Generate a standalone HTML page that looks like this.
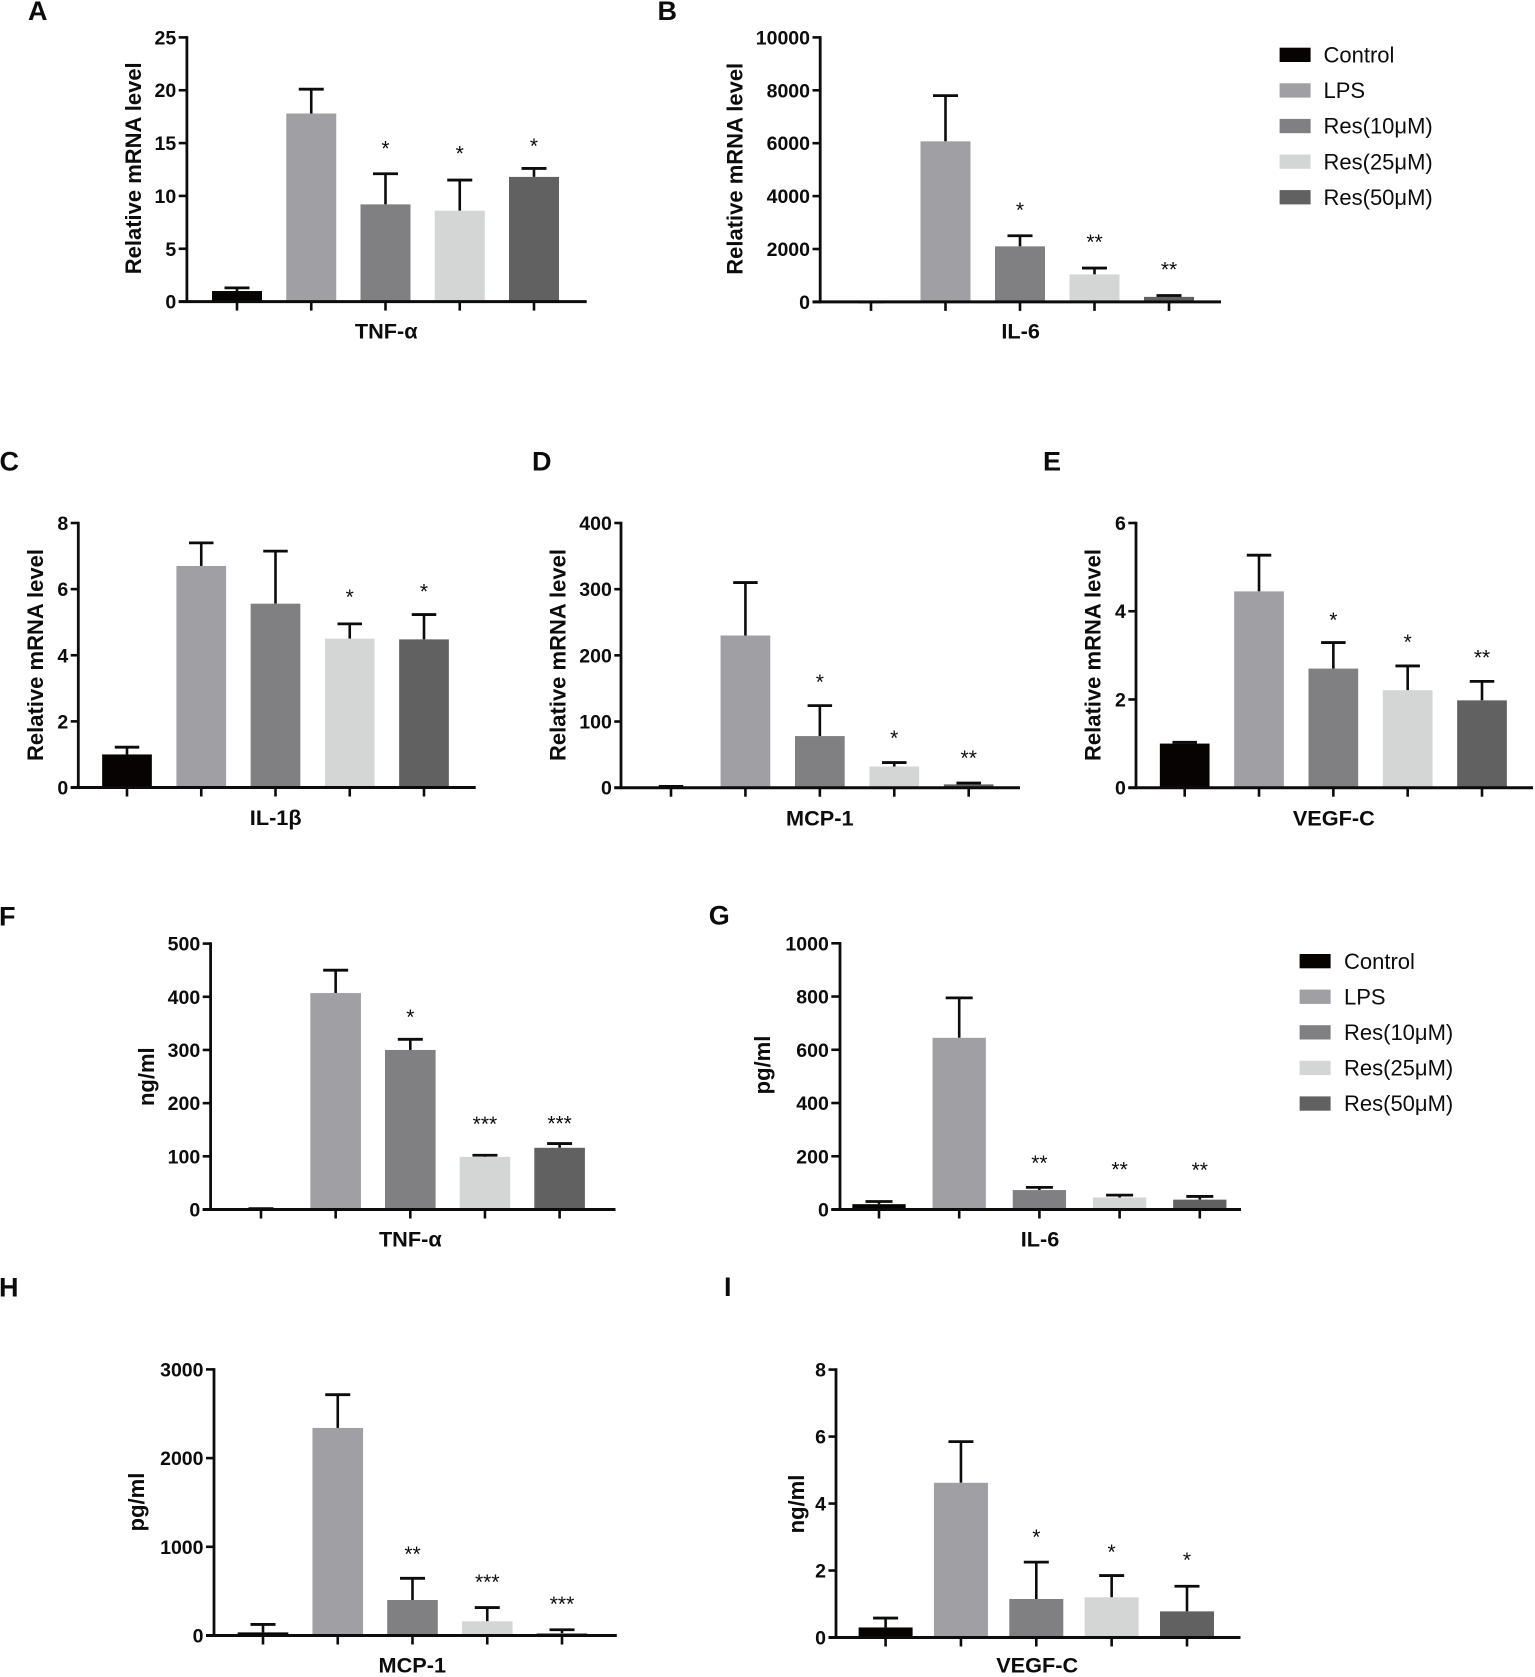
<!DOCTYPE html>
<html lang="en">
<head>
<meta charset="utf-8">
<title>Relative mRNA and cytokine levels</title>
<style>
html,body{margin:0;padding:0;background:#fff;}
body{width:1535px;height:1677px;overflow:hidden;}
svg{display:block;filter:blur(0.35px);}
text{font-family:"Liberation Sans","DejaVu Sans",sans-serif;fill:#0c0c0c;}
</style>
</head>
<body>
<svg id="figure" xmlns="http://www.w3.org/2000/svg" width="1535" height="1677" viewBox="0 0 1535 1677"></svg>
<script>
const categories = ['Control', 'LPS', 'Res(10μM)', 'Res(25μM)', 'Res(50μM)'];
const barColors = ['#070303', '#a0a0a4', '#808082', '#d4d5d5', '#616162'];

const aTicks = ['0', '5', '10', '15', '20', '25'];
const aMeans = [1.0, 17.8, 9.2, 8.6, 11.8];
const aErrTops = [1.3, 20.1, 12.1, 11.5, 12.6];
const aStars = ['', '', '*', '*', '*'];
const aStarLevels = [0, 0, 14.85, 14.38, 15.07];

const bTicks = ['0', '2000', '4000', '6000', '8000', '10000'];
const bMeans = [0, 6070, 2100, 1040, 190];
const bErrTops = [0, 7800, 2500, 1280, 240];
const bStars = ['', '', '*', '**', '**'];
const bStarLevels = [0, 0, 3611, 2404, 1358];

const cTicks = ['0', '2', '4', '6', '8'];
const cMeans = [1.0, 6.7, 5.56, 4.5, 4.48];
const cErrTops = [1.22, 7.4, 7.15, 4.95, 5.23];
const cStars = ['', '', '', '*', '*'];
const cStarLevels = [0, 0, 0, 5.875, 6.04];

const dTicks = ['0', '100', '200', '300', '400'];
const dMeans = [0.5, 230, 78, 32, 5];
const dErrTops = [2, 310, 124, 38, 7];
const dStars = ['', '', '*', '*', '**'];
const dStarLevels = [0, 0, 165, 80.6, 50.4];

const eTicks = ['0', '2', '4', '6'];
const eMeans = [1.0, 4.45, 2.7, 2.21, 1.98];
const eErrTops = [1.03, 5.27, 3.29, 2.76, 2.41];
const eStars = ['', '', '*', '*', '**'];
const eStarLevels = [0, 0, 3.89, 3.39, 3.03];

const fTicks = ['0', '100', '200', '300', '400', '500'];
const fMeans = [0.5, 407, 300, 99, 116];
const fErrTops = [1.5, 450, 320, 102, 124];
const fStars = ['', '', '*', '***', '***'];
const fStarLevels = [0, 0, 369, 168, 169];

const gTicks = ['0', '200', '400', '600', '800', '1000'];
const gMeans = [20, 645, 73, 45, 37];
const gErrTops = [30, 795, 83, 54, 49];
const gStars = ['', '', '**', '**', '**'];
const gStarLevels = [0, 0, 189.5, 165, 162];

const hTicks = ['0', '1000', '2000', '3000'];
const hMeans = [35, 2340, 400, 160, 25];
const hErrTops = [125, 2715, 645, 315, 65];
const hStars = ['', '', '**', '***', '***'];
const hStarLevels = [0, 0, 961, 645, 398];

const iTicks = ['0', '2', '4', '6', '8'];
const iMeans = [0.3, 4.62, 1.15, 1.2, 0.78];
const iErrTops = [0.58, 5.85, 2.25, 1.85, 1.53];
const iStars = ['', '', '*', '*', '*'];
const iStarLevels = [0, 0, 3.11, 2.67, 2.43];

const REL = 'Relative mRNA level';
const panels = [
  {id:'a',letter:'A',lx:28,ly:20,gene:'TNF-α',ticks:aTicks,means:aMeans,errs:aErrTops,stars:aStars,levels:aStarLevels,
   ax:186.9,left:178.7,right:586.7,top:37.4,base:301.6,first:237,last:534,bw:50,cap:25,yl:REL,ylx:140.8,yly:168.3,xlx:386.2,xly:338.3},
  {id:'b',letter:'B',lx:657.5,ly:20,gene:'IL-6',ticks:bTicks,means:bMeans,errs:bErrTops,stars:bStars,levels:bStarLevels,
   ax:820.2,left:812.5,right:1221,top:37.4,base:301.9,first:871,last:1169,bw:50,cap:25,yl:REL,ylx:742.5,yly:168.8,xlx:1020.7,xly:338.3},
  {id:'c',letter:'C',lx:-0.5,ly:470.7,gene:'IL-1β',ticks:cTicks,means:cMeans,errs:cErrTops,stars:cStars,levels:cStarLevels,
   ax:78.3,left:70.7,right:475.7,top:523,base:787.5,first:127,last:424,bw:49.7,cap:24.5,yl:REL,ylx:43,yly:655,xlx:275.7,xly:825},
  {id:'d',letter:'D',lx:532,ly:470.7,gene:'MCP-1',ticks:dTicks,means:dMeans,errs:dErrTops,stars:dStars,levels:dStarLevels,
   ax:621,left:614.3,right:1020,top:523,base:787.7,first:671,last:968.7,bw:49.7,cap:24.5,yl:REL,ylx:565.7,yly:655,xlx:819.8,xly:825.7},
  {id:'e',letter:'E',lx:1043,ly:470.7,gene:'VEGF-C',ticks:eTicks,means:eMeans,errs:eErrTops,stars:eStars,levels:eStarLevels,
   ax:1136,left:1128.3,right:1533,top:523,base:787.7,first:1184.7,last:1482,bw:49.7,cap:24.5,yl:REL,ylx:1100.7,yly:655,xlx:1333.8,xly:825.7},
  {id:'f',letter:'F',lx:-1,ly:925.7,gene:'TNF-α',ticks:fTicks,means:fMeans,errs:fErrTops,stars:fStars,levels:fStarLevels,
   ax:210.6,left:202.7,right:615.5,top:943.6,base:1209.5,first:261,last:559.6,bw:50.6,cap:25,yl:'ng/ml',ylx:154,yly:1076.7,xlx:410.3,xly:1246.7},
  {id:'g',letter:'G',lx:708.8,ly:924.5,gene:'IL-6',ticks:gTicks,means:gMeans,errs:gErrTops,stars:gStars,levels:gStarLevels,
   ax:840,left:831.3,right:1241,top:943.3,base:1209.5,first:879,last:1199.8,bw:53.3,cap:27,yl:'pg/ml',ylx:770,yly:1065,xlx:1040,xly:1246.7},
  {id:'h',letter:'H',lx:-1,ly:1296.7,gene:'MCP-1',ticks:hTicks,means:hMeans,errs:hErrTops,stars:hStars,levels:hStarLevels,
   ax:214,left:206,right:616.8,top:1369.4,base:1635.5,first:263,last:562,bw:50.6,cap:25,yl:'pg/ml',ylx:144,yly:1502,xlx:412.3,xly:1672.7},
  {id:'i',letter:'I',lx:724,ly:1296,gene:'VEGF-C',ticks:iTicks,means:iMeans,errs:iErrTops,stars:iStars,levels:iStarLevels,
   ax:836,left:828.5,right:1240.5,top:1369.6,base:1637.5,first:885.6,last:1187,bw:54,cap:25,yl:'ng/ml',ylx:804,yly:1504,xlx:1037.2,xly:1672.3}
];
const legends = [
  {id:'top',swatchX:1279.6,textX:1323.5,firstY:47.7,rowStep:35.6},
  {id:'bottom',swatchX:1299.6,textX:1344,firstY:954,rowStep:35.6}
];

const NS = 'http://www.w3.org/2000/svg';
const figure = document.getElementById('figure');
function svgEl(tag, attrs, parent, content) {
  const el = document.createElementNS(NS, tag);
  for (const k in attrs) el.setAttribute(k, attrs[k]);
  if (content !== undefined) el.textContent = content;
  parent.appendChild(el);
  return el;
}
const INK = '#0c0c0c';

panels.forEach(function (p) {
  const yOf = function (v) { return p.base - (v / Number(p.ticks[p.ticks.length - 1])) * (p.base - p.top); };
  const xOf = function (i) { return p.first + i * (p.last - p.first) / (categories.length - 1); };

  const g = svgEl('g', {}, figure);
  
  

  const letter = svgEl('text', {x:p.lx, y:p.ly, 'font-size':27, 'font-weight':'bold'}, g, p.letter);
  
  

  categories.forEach(function (cat, i) {
    const cx = xOf(i);
    const stem = svgEl('line', {x1:cx, x2:cx, y1:yOf(p.means[i]), y2:yOf(p.errs[i]), stroke:INK, 'stroke-width':2.6}, g);
    
    

    const cap = svgEl('line', {x1:cx - p.cap / 2, x2:cx + p.cap / 2, y1:yOf(p.errs[i]), y2:yOf(p.errs[i]), stroke:INK, 'stroke-width':2.8}, g);
    
    

    const bar = svgEl('rect', {x:cx - p.bw / 2, y:yOf(p.means[i]), width:p.bw, height:p.base - yOf(p.means[i]), fill:barColors[i]}, g);
    
    

    const xTick = svgEl('line', {x1:cx, x2:cx, y1:p.base, y2:p.base + 9, stroke:INK, 'stroke-width':2.6}, g);
    
    

    if (p.stars[i]) {
      const star = svgEl('text', {x:cx, y:yOf(p.levels[i]) + 10.7, 'font-size':21, 'text-anchor':'middle'}, g, p.stars[i]);
      
      
    }
  });

  const yAxis = svgEl('line', {x1:p.ax, x2:p.ax, y1:p.top - 1.3, y2:p.base + 1.4, stroke:INK, 'stroke-width':2.8}, g);
  
  

  const xAxis = svgEl('line', {x1:p.left, x2:p.right, y1:p.base, y2:p.base, stroke:INK, 'stroke-width':3}, g);
  
  

  p.ticks.forEach(function (label) {
    const ty = yOf(Number(label));
    const tick = svgEl('line', {x1:p.left, x2:p.ax, y1:ty, y2:ty, stroke:INK, 'stroke-width':2.6}, g);
    
    

    const tl = svgEl('text', {x:p.left - 2.5, y:ty + 7, 'font-size':19.5, 'font-weight':'bold', 'text-anchor':'end'}, g, label);
    
    
  });

  const yTitle = svgEl('text', {x:0, y:0, 'font-size':22, 'font-weight':'bold', 'text-anchor':'middle', transform:`translate(${p.ylx} ${p.yly}) rotate(-90)`}, g, p.yl);
  
  

  const xTitle = svgEl('text', {x:p.xlx, y:p.xly, 'font-size':21.7, 'font-weight':'bold', 'text-anchor':'middle'}, g, p.gene);
  
  
});

legends.forEach(function (l) {
  const g = svgEl('g', {}, figure);
  
  
  categories.forEach(function (cat, i) {
    const y = l.firstY + i * l.rowStep;
    const sw = svgEl('rect', {x:l.swatchX, y:y, width:31, height:14.3, fill:barColors[i]}, g);
    
    

    const t = svgEl('text', {x:l.textX, y:y + 14.8, 'font-size':22}, g, cat);
    
    
  });
});
</script>
</body>
</html>
